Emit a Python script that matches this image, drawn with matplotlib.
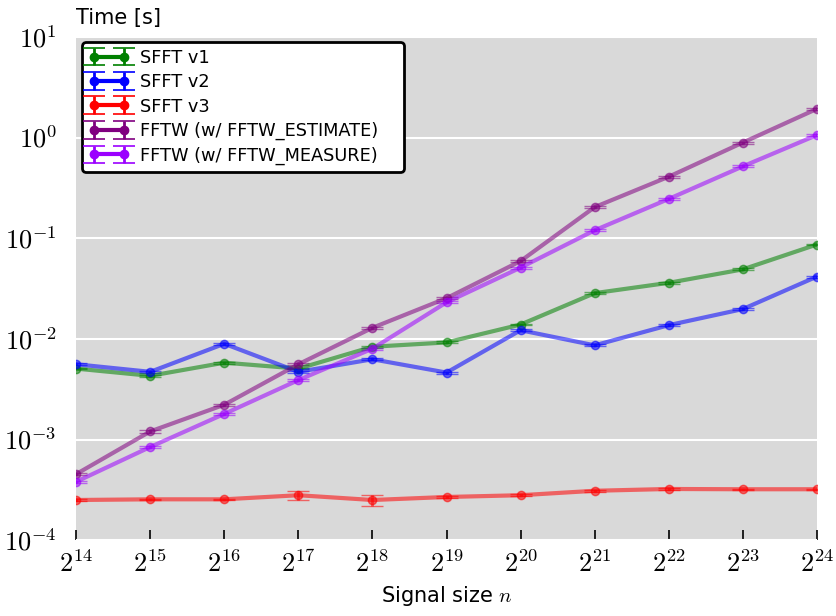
import numpy as np
import matplotlib
matplotlib.use('Agg')
from matplotlib import pyplot as plt

plt.rcParams['mathtext.fontset'] = 'cm'
plt.rcParams['font.family'] = 'DejaVu Sans'

# signal size exponents: n = 2**k
log_n = [14, 15, 16, 17, 18, 19, 20, 21, 22, 23, 24]

sfft_v1 = [5.07e-3, 4.30e-3, 5.81e-3, 5.07e-3, 8.36e-3, 9.23e-3, 0.0139, 0.0285, 0.0361, 0.0491, 0.0867]
sfft_v1_err = [1.0e-4, 1.0e-4, 1.2e-4, 1.0e-4, 2.0e-4, 2.0e-4, 3.0e-4, 6.0e-4, 8.0e-4, 1.0e-3, 1.8e-3]

sfft_v2 = [5.60e-3, 4.71e-3, 8.95e-3, 4.71e-3, 6.28e-3, 4.63e-3, 0.0122, 8.63e-3, 0.0137, 0.0198, 0.0416]
sfft_v2_err = [1.2e-4, 1.0e-4, 2.0e-4, 1.0e-4, 1.3e-4, 1.0e-4, 2.5e-4, 1.8e-4, 3.0e-4, 4.0e-4, 9.0e-4]

sfft_v3 = [2.51e-4, 2.55e-4, 2.55e-4, 2.80e-4, 2.51e-4, 2.69e-4, 2.80e-4, 3.10e-4, 3.23e-4, 3.21e-4, 3.21e-4]
sfft_v3_err = [4e-6, 4e-6, 4e-6, 2.8e-5, 3.3e-5, 5e-6, 5e-6, 6e-6, 7e-6, 5e-6, 5e-6]

fftw_est = [4.54e-4, 1.205e-3, 2.22e-3, 5.6e-3, 0.0129, 0.0254, 0.0594, 0.204, 0.409, 0.893, 1.93]
fftw_est_err = [1.2e-5, 3e-5, 5e-5, 1.4e-4, 3e-4, 6e-4, 1.4e-3, 5e-3, 1e-2, 2e-2, 5e-2]

fftw_meas = [3.81e-4, 8.44e-4, 1.80e-3, 3.90e-3, 8.0e-3, 0.0231, 0.0511, 0.120, 0.246, 0.518, 1.06]
fftw_meas_err = [1e-5, 2e-5, 4e-5, 1e-4, 2e-4, 6e-4, 1.2e-3, 3e-3, 6e-3, 1.2e-2, 2.5e-2]

series = [
    ('SFFT v1', sfft_v1, sfft_v1_err, 'green'),
    ('SFFT v2', sfft_v2, sfft_v2_err, 'blue'),
    ('SFFT v3', sfft_v3, sfft_v3_err, 'red'),
    ('FFTW (w/ FFTW_ESTIMATE)', fftw_est, fftw_est_err, 'purple'),
    ('FFTW (w/ FFTW_MEASURE)', fftw_meas, fftw_meas_err, '#9b00ff'),
]

fig = plt.figure(figsize=(8.37, 6.16), dpi=100)
ax = fig.add_axes([0.091, 0.123, 0.885, 0.817])
ax.set_facecolor('#d9d9d9')

x = np.power(2.0, log_n)
for name, y, err, c in series:
    ax.errorbar(x, y, yerr=err, fmt='-o', color=c, lw=3, ms=6,
                elinewidth=2, capsize=8, capthick=1, alpha=0.55)
    # opaque copy outside the view, only used for the legend entry
    ax.errorbar([1.0], [1.0], yerr=[0.5], fmt='-o', color=c, lw=3,
                ms=6, elinewidth=2, capsize=8, capthick=1.2, label=name)

ax.set_xscale('log', base=2)
ax.set_yscale('log')
ax.set_xlim(2**14, 2**24)
ax.set_ylim(1e-4, 10)
ax.set_xticks(x)
ax.set_xticklabels([r'$2^{%d}$' % k for k in log_n])
ax.set_yticks([1e-4, 1e-3, 1e-2, 1e-1, 1, 10])
ax.set_yticklabels([r'$10^{-4}$', r'$10^{-3}$', r'$10^{-2}$', r'$10^{-1}$', r'$10^{0}$', r'$10^{1}$'])
ax.minorticks_off()
ax.tick_params(axis='x', direction='in', length=7, width=1.2, labelsize=19, pad=8)
ax.tick_params(axis='y', length=0, labelsize=19, pad=14)
ax.grid(axis='y', color='white', lw=1.5)
ax.set_axisbelow(True)
for s in ax.spines.values():
    s.set_visible(False)

ax.set_xlabel(r'Signal size $n$', fontsize=15, labelpad=4)
fig.text(0.091, 0.955, 'Time [s]', fontsize=15, ha='left', va='bottom')

leg = ax.legend(loc='upper left', bbox_to_anchor=(0.008, 0.0, 0.4345, 0.99),
                mode='expand', borderaxespad=0, fontsize=12.8, frameon=True,
                fancybox=True, numpoints=2, handlelength=2.25,
                handletextpad=0.6, labelspacing=0.36, borderpad=0.38)
leg.get_frame().set_edgecolor('black')
leg.get_frame().set_linewidth(2)
leg.get_frame().set_facecolor('white')
leg.get_frame().set_alpha(1)

fig.savefig('out.png', dpi=100)
